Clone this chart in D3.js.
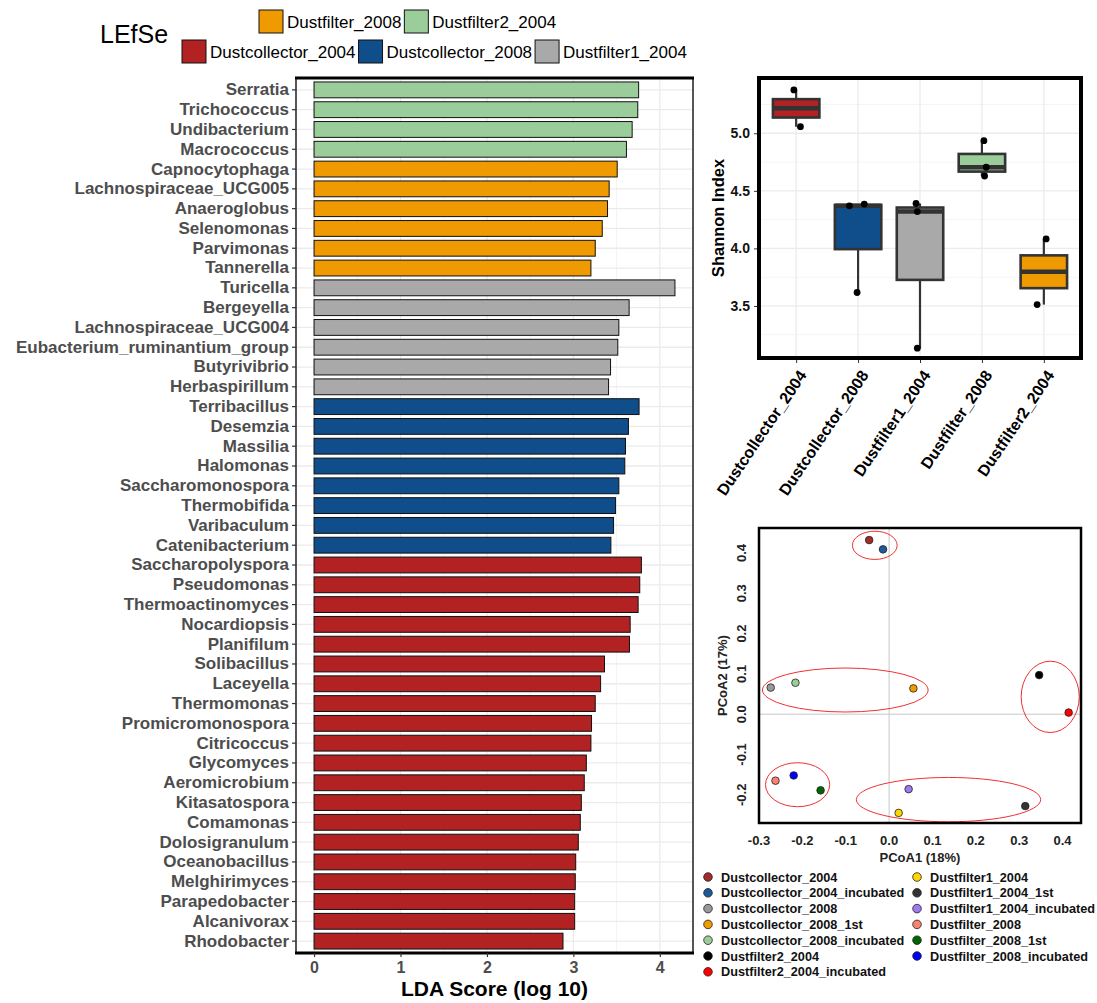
<!DOCTYPE html>
<html>
<head>
<meta charset="utf-8">
<script src="https://cdn.jsdelivr.net/npm/d3@7"></script>
<style>
  body { margin: 0; background: #fff; }
  text { font-family: "Liberation Sans", Arial, sans-serif; }
</style>
</head>
<body>
<script>
// ---- data ----
const groupNames = ['Dustcollector_2004', 'Dustcollector_2008', 'Dustfilter1_2004', 'Dustfilter_2008', 'Dustfilter2_2004']
const groupColors = ['#B22222', '#104E8B', '#A9A9A9', '#EE9A00', '#9BCD9B']
// the boxplot panel colours its boxes in its own order
const boxColors = ['#B22222', '#104E8B', '#A9A9A9', '#9BCD9B', '#EE9A00']
const legendRow1 = ['Dustfilter_2008', 'Dustfilter2_2004']
const legendRow2 = ['Dustcollector_2004', 'Dustcollector_2008', 'Dustfilter1_2004']

const taxa = ['Serratia', 'Trichococcus', 'Undibacterium', 'Macrococcus',
  'Capnocytophaga', 'Lachnospiraceae_UCG005', 'Anaeroglobus', 'Selenomonas', 'Parvimonas', 'Tannerella',
  'Turicella', 'Bergeyella', 'Lachnospiraceae_UCG004', 'Eubacterium_ruminantium_group', 'Butyrivibrio', 'Herbaspirillum',
  'Terribacillus', 'Desemzia', 'Massilia', 'Halomonas', 'Saccharomonospora', 'Thermobifida', 'Varibaculum', 'Catenibacterium',
  'Saccharopolyspora', 'Pseudomonas', 'Thermoactinomyces', 'Nocardiopsis', 'Planifilum', 'Solibacillus', 'Laceyella',
  'Thermomonas', 'Promicromonospora', 'Citricoccus', 'Glycomyces', 'Aeromicrobium', 'Kitasatospora', 'Comamonas',
  'Dolosigranulum', 'Oceanobacillus', 'Melghirimyces', 'Parapedobacter', 'Alcanivorax', 'Rhodobacter']
const ldaScores = [3.755, 3.745, 3.68, 3.614,
  3.507, 3.414, 3.395, 3.334, 3.253, 3.203,
  4.175, 3.645, 3.526, 3.514, 3.43, 3.407,
  3.76, 3.637, 3.603, 3.595, 3.526, 3.488, 3.465, 3.434,
  3.787, 3.768, 3.749, 3.657, 3.649, 3.36, 3.315,
  3.253, 3.21, 3.203, 3.15, 3.126, 3.092, 3.08,
  3.057, 3.027, 3.022, 3.015, 3.015, 2.88]
const taxaGroup = [].concat(
  Array(4).fill('Dustfilter2_2004'),
  Array(6).fill('Dustfilter_2008'),
  Array(6).fill('Dustfilter1_2004'),
  Array(8).fill('Dustcollector_2008'),
  Array(20).fill('Dustcollector_2004'))
const ldaTicks = [0, 1, 2, 3, 4]

// shannon index per sample, with the horizontal jitter (in category units)
const shannonValues = [[5.376, 5.057], [4.385, 4.37, 3.617], [4.39, 4.32, 3.133], [4.936, 4.705, 4.629], [4.082, 3.512]]
const shannonJitter = [[-0.037, 0.069], [0.10, -0.14, -0.016], [-0.064, -0.043, -0.043], [0.032, 0.069, 0.043], [0.037, -0.108]]
const shannonTicks = [3.5, 4.0, 4.5, 5.0]

const samples = ['Dustcollector_2004', 'Dustcollector_2004_incubated', 'Dustcollector_2008', 'Dustcollector_2008_1st',
  'Dustcollector_2008_incubated', 'Dustfilter2_2004', 'Dustfilter2_2004_incubated', 'Dustfilter1_2004',
  'Dustfilter1_2004_1st', 'Dustfilter1_2004_incubated', 'Dustfilter_2008', 'Dustfilter_2008_1st', 'Dustfilter_2008_incubated']
const sampleColors = ['#A52A2A', '#1C5A9A', '#999999', '#EE9A00', '#9BCD9B', '#000000', '#FF0000',
  '#FFD700', '#333333', '#9F79EE', '#FA8072', '#006400', '#0000FF']
const pcoa1 = [-0.046, -0.014, -0.273, 0.056, -0.216, 0.346, 0.414, 0.022, 0.314, 0.045, -0.262, -0.158, -0.220]
const pcoa2 = [0.432, 0.409, 0.066, 0.064, 0.078, 0.097, 0.004, -0.245, -0.228, -0.186, -0.165, -0.189, -0.152]
// cluster ellipses: centre x, centre y, radius x, radius y (axis units)
const ellipseCx = [-0.033, -0.101, 0.3715, -0.211, 0.137]
const ellipseCy = [0.419, 0.060, 0.043, -0.175, -0.212]
const ellipseRx = [0.0516, 0.191, 0.067, 0.074, 0.2125]
const ellipseRy = [0.035, 0.0546, 0.0885, 0.0546, 0.055]
const pcoaXTicks = [-0.3, -0.2, -0.1, 0.0, 0.1, 0.2, 0.3, 0.4]
const pcoaYTicks = [-0.2, -0.1, 0.0, 0.1, 0.2, 0.3, 0.4]

const colorOf = d3.scaleOrdinal().domain(groupNames).range(groupColors)
const boxColorOf = d3.scaleOrdinal().domain(groupNames).range(boxColors)

const svg = d3.select('body').append('svg')
    .attr('width', 1097)
    .attr('height', 1003)

// ---- LEfSe legend ----
svg.append('text')
    .attr('x', 100).attr('y', 43)
    .style('font-size', '25px')
    .text('LEfSe')

function legendRow(names, x0, y0) {
    let x = x0
    names.forEach(name => {
        svg.append('rect')
            .attr('x', x).attr('y', y0)
            .attr('width', 24).attr('height', 23)
            .attr('fill', colorOf(name))
            .attr('stroke', '#111').attr('stroke-width', 1)
        const t = svg.append('text')
            .attr('x', x + 28).attr('y', y0 + 18)
            .style('font-size', '17px')
            .text(name)
        x += 28 + t.node().getComputedTextLength() + 3
    })
}
legendRow(legendRow1, 259, 10)
legendRow(legendRow2, 182, 40)

// ---- LDA bar chart ----
const lda = { left: 296, right: 693, top: 78, bottom: 953 }
const xLda = d3.scaleLinear().domain([-0.209, 4.384]).range([lda.left, lda.right])
const yLda = d3.scaleBand().domain(taxa).range([lda.top, lda.bottom])
    .paddingInner(0.2).paddingOuter(0.2)

const gBar = svg.append('g')
gBar.append('rect')
    .attr('x', lda.left).attr('y', lda.top)
    .attr('width', lda.right - lda.left).attr('height', lda.bottom - lda.top)
    .attr('fill', '#fff')
gBar.selectAll('.minor')
    .data([0.5, 1.5, 2.5, 3.5])
    .enter().append('line')
    .attr('x1', d => xLda(d)).attr('x2', d => xLda(d))
    .attr('y1', lda.top).attr('y2', lda.bottom)
    .attr('stroke', '#f4f4f4').attr('stroke-width', 1)
gBar.selectAll('.vmajor')
    .data(ldaTicks)
    .enter().append('line')
    .attr('x1', d => xLda(d)).attr('x2', d => xLda(d))
    .attr('y1', lda.top).attr('y2', lda.bottom)
    .attr('stroke', '#ebebeb').attr('stroke-width', 1.3)
gBar.selectAll('.hmajor')
    .data(taxa)
    .enter().append('line')
    .attr('x1', lda.left).attr('x2', lda.right)
    .attr('y1', d => yLda(d) + yLda.bandwidth() / 2)
    .attr('y2', d => yLda(d) + yLda.bandwidth() / 2)
    .attr('stroke', '#ebebeb').attr('stroke-width', 1.3)

gBar.selectAll('.bar')
    .data(taxa)
    .enter().append('rect')
    .attr('class', 'bar')
    .attr('x', xLda(0))
    .attr('y', d => yLda(d))
    .attr('width', (d, i) => xLda(ldaScores[i]) - xLda(0))
    .attr('height', yLda.bandwidth())
    .attr('fill', (d, i) => colorOf(taxaGroup[i]))
    .attr('stroke', '#111').attr('stroke-width', 1)

gBar.append('rect')
    .attr('x', lda.left).attr('y', lda.top)
    .attr('width', lda.right - lda.left).attr('height', lda.bottom - lda.top)
    .attr('fill', 'none').attr('stroke', '#444').attr('stroke-width', 1.8)
gBar.selectAll('.hedge')
    .data([lda.top, lda.bottom])
    .enter().append('line')
    .attr('x1', lda.left - 1).attr('x2', lda.right + 1)
    .attr('y1', d => d).attr('y2', d => d)
    .attr('stroke', '#000').attr('stroke-width', 3)

const yAxisLda = gBar.append('g')
    .attr('transform', `translate(${lda.left},0)`)
    .call(d3.axisLeft(yLda).tickSize(4).tickPadding(3))
yAxisLda.select('.domain').remove()
yAxisLda.selectAll('line').attr('stroke', '#333').attr('stroke-width', 1.2)
yAxisLda.selectAll('text')
    .style('font-size', '17px').style('font-weight', 'bold').attr('fill', '#4d4d4d')

const xAxisLda = gBar.append('g')
    .attr('transform', `translate(0,${lda.bottom})`)
    .call(d3.axisBottom(xLda).tickValues(ldaTicks).tickFormat(d3.format('d')).tickSize(4).tickPadding(5))
xAxisLda.select('.domain').remove()
xAxisLda.selectAll('line').attr('stroke', '#333').attr('stroke-width', 1.2)
xAxisLda.selectAll('text')
    .style('font-size', '16px').style('font-weight', 'bold').attr('fill', '#4d4d4d')

svg.append('text')
    .attr('x', (lda.left + lda.right) / 2).attr('y', 996)
    .attr('text-anchor', 'middle')
    .style('font-size', '21px').style('font-weight', 'bold')
    .text('LDA Score (log 10)')

// ---- Shannon boxplot ----
const box = { left: 759, right: 1081, top: 78, bottom: 358 }
const xBox = d3.scalePoint().domain(groupNames).range([box.left, box.right]).padding(0.6)
const yBox = d3.scaleLinear().domain([3.048, 5.48]).range([box.bottom, box.top])
const boxW = xBox.step() * 0.75

const gBox = svg.append('g')
gBox.selectAll('.bminor')
    .data([3.25, 3.75, 4.25, 4.75, 5.25])
    .enter().append('line')
    .attr('x1', box.left).attr('x2', box.right)
    .attr('y1', d => yBox(d)).attr('y2', d => yBox(d))
    .attr('stroke', '#f4f4f4').attr('stroke-width', 1)
gBox.selectAll('.bhmajor')
    .data(shannonTicks)
    .enter().append('line')
    .attr('x1', box.left).attr('x2', box.right)
    .attr('y1', d => yBox(d)).attr('y2', d => yBox(d))
    .attr('stroke', '#ebebeb').attr('stroke-width', 1.3)
gBox.selectAll('.bvmajor')
    .data(groupNames)
    .enter().append('line')
    .attr('x1', d => xBox(d)).attr('x2', d => xBox(d))
    .attr('y1', box.top).attr('y2', box.bottom)
    .attr('stroke', '#ebebeb').attr('stroke-width', 1.3)

groupNames.forEach((g, i) => {
    const vals = shannonValues[i].slice().sort(d3.ascending)
    const q1 = d3.quantile(vals, 0.25)
    const med = d3.quantile(vals, 0.5)
    const q3 = d3.quantile(vals, 0.75)
    const cx = xBox(g)
    gBox.append('line')
        .attr('x1', cx).attr('x2', cx)
        .attr('y1', yBox(vals[0])).attr('y2', yBox(vals[vals.length - 1]))
        .attr('stroke', '#333').attr('stroke-width', 2.2)
    gBox.append('rect')
        .attr('x', cx - boxW / 2).attr('y', yBox(q3))
        .attr('width', boxW).attr('height', yBox(q1) - yBox(q3))
        .attr('fill', boxColorOf(g))
        .attr('stroke', '#333').attr('stroke-width', 2.6)
    gBox.append('line')
        .attr('x1', cx - boxW / 2).attr('x2', cx + boxW / 2)
        .attr('y1', yBox(med)).attr('y2', yBox(med))
        .attr('stroke', '#333').attr('stroke-width', 4.5)
    gBox.selectAll(null)
        .data(shannonValues[i])
        .enter().append('circle')
        .attr('cx', (d, j) => cx + shannonJitter[i][j] * xBox.step())
        .attr('cy', d => yBox(d))
        .attr('r', 3.4)
        .attr('fill', '#000')
})

gBox.append('rect')
    .attr('x', box.left).attr('y', box.top)
    .attr('width', box.right - box.left).attr('height', box.bottom - box.top)
    .attr('fill', 'none').attr('stroke', '#000').attr('stroke-width', 4)

const yAxisBox = gBox.append('g')
    .attr('transform', `translate(${box.left - 2},0)`)
    .call(d3.axisLeft(yBox).tickValues(shannonTicks).tickFormat(d3.format('.1f')).tickSize(3).tickPadding(4))
yAxisBox.select('.domain').remove()
yAxisBox.selectAll('line').attr('stroke', '#333')
yAxisBox.selectAll('text')
    .style('font-size', '14px').style('font-weight', 'bold').attr('fill', '#111')

const xAxisBox = gBox.append('g')
    .attr('transform', `translate(0,${box.bottom + 2})`)
    .call(d3.axisBottom(xBox).tickSize(3).tickPadding(4))
xAxisBox.select('.domain').remove()
xAxisBox.selectAll('line').attr('stroke', '#333')
xAxisBox.selectAll('text')
    .style('font-size', '16px').style('font-weight', 'bold').attr('fill', '#000')
    .attr('text-anchor', 'end')
    .attr('dy', '0.35em')
    .attr('transform', 'translate(6,12) rotate(-56)')
    .attr('y', 0)

svg.append('text')
    .attr('transform', `translate(724,${(box.top + box.bottom) / 2}) rotate(-90)`)
    .attr('text-anchor', 'middle')
    .style('font-size', '16.5px').style('font-weight', 'bold')
    .text('Shannon Index')

// ---- PCoA ----
const pc = { left: 759, right: 1081, top: 528, bottom: 823 }
const xPc = d3.scaleLinear().domain([-0.3, 0.4425]).range([pc.left, pc.right])
const yPc = d3.scaleLinear().domain([-0.27, 0.462]).range([pc.bottom, pc.top])

const gPc = svg.append('g')
gPc.append('line')
    .attr('x1', xPc(0)).attr('x2', xPc(0))
    .attr('y1', pc.top).attr('y2', pc.bottom)
    .attr('stroke', '#c8c8c8').attr('stroke-width', 1)
gPc.append('line')
    .attr('x1', pc.left).attr('x2', pc.right)
    .attr('y1', yPc(0)).attr('y2', yPc(0))
    .attr('stroke', '#c8c8c8').attr('stroke-width', 1)

gPc.selectAll('.ell')
    .data(ellipseCx)
    .enter().append('ellipse')
    .attr('cx', d => xPc(d))
    .attr('cy', (d, i) => yPc(ellipseCy[i]))
    .attr('rx', (d, i) => xPc(ellipseRx[i]) - xPc(0))
    .attr('ry', (d, i) => yPc(0) - yPc(ellipseRy[i]))
    .attr('fill', 'none')
    .attr('stroke', '#f03030').attr('stroke-width', 1)

gPc.selectAll('.pt')
    .data(samples)
    .enter().append('circle')
    .attr('cx', (d, i) => xPc(pcoa1[i]))
    .attr('cy', (d, i) => yPc(pcoa2[i]))
    .attr('r', 3.8)
    .attr('fill', (d, i) => sampleColors[i])
    .attr('stroke', '#222').attr('stroke-width', 0.8)

gPc.append('rect')
    .attr('x', pc.left).attr('y', pc.top)
    .attr('width', pc.right - pc.left).attr('height', pc.bottom - pc.top)
    .attr('fill', 'none').attr('stroke', '#000').attr('stroke-width', 2.5)

gPc.selectAll('.xt')
    .data(pcoaXTicks)
    .enter().append('text')
    .attr('x', d => xPc(d)).attr('y', 845)
    .attr('text-anchor', 'middle')
    .style('font-size', '13px').style('font-weight', 'bold').attr('fill', '#222')
    .text(d => d3.format('.1f')(d).replace('−', '-'))
gPc.selectAll('.yt')
    .data(pcoaYTicks)
    .enter().append('text')
    .attr('transform', d => `translate(746,${yPc(d)}) rotate(-90)`)
    .attr('text-anchor', 'middle')
    .style('font-size', '13px').style('font-weight', 'bold').attr('fill', '#222')
    .text(d => d3.format('.1f')(d).replace('−', '-'))

svg.append('text')
    .attr('x', (pc.left + pc.right) / 2).attr('y', 862)
    .attr('text-anchor', 'middle')
    .style('font-size', '13px').style('font-weight', 'bold').attr('fill', '#222')
    .text('PCoA1 (18%)')
svg.append('text')
    .attr('transform', `translate(727,${(pc.top + pc.bottom) / 2}) rotate(-90)`)
    .attr('text-anchor', 'middle')
    .style('font-size', '13px').style('font-weight', 'bold').attr('fill', '#222')
    .text('PCoA2 (17%)')

// sample legend, two columns
const perCol = 7
const gLeg = svg.append('g')
samples.forEach((s, i) => {
    const col = Math.floor(i / perCol)
    const row = i % perCol
    const lx = col === 0 ? 708 : 917
    const ly = 877 + row * 15.8
    gLeg.append('circle')
        .attr('cx', lx).attr('cy', ly).attr('r', 4.3)
        .attr('fill', sampleColors[i])
        .attr('stroke', '#222').attr('stroke-width', 0.8)
    gLeg.append('text')
        .attr('x', lx + 13).attr('y', ly + 4.6)
        .style('font-size', '12.7px').style('font-weight', 'bold').attr('fill', '#111')
        .text(s)
})
</script>
</body>
</html>
